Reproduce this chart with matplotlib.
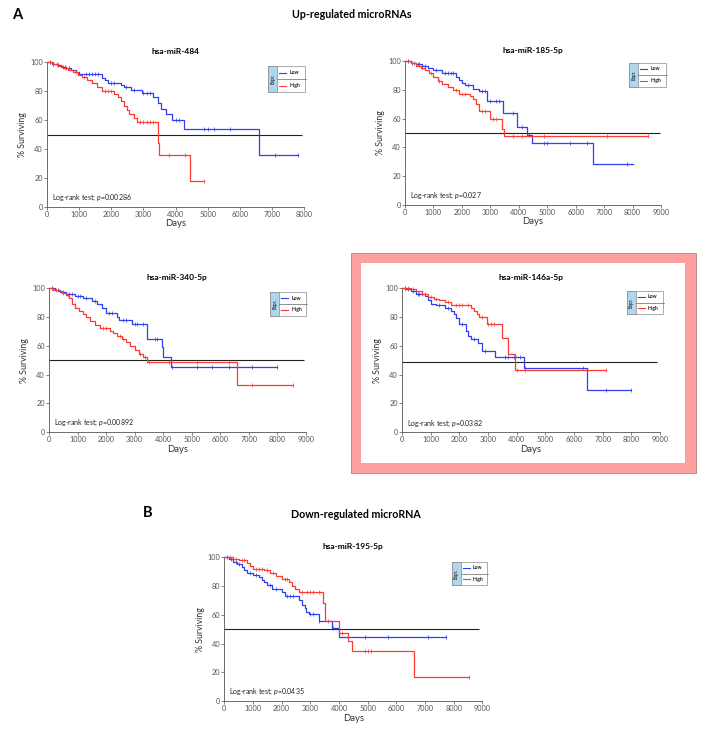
import numpy as np
import matplotlib
matplotlib.use('Agg')
import matplotlib.pyplot as plt
from matplotlib.patches import Rectangle
from matplotlib.lines import Line2D

plt.rcParams['font.family'] = ['Lato', 'DejaVu Sans']
plt.rcParams['mathtext.fontset'] = 'custom'
plt.rcParams['mathtext.it'] = 'Lato:italic'
plt.rcParams['mathtext.rm'] = 'Lato'

W, H = 705, 730

# ---------------- data ----------------
titles = ["hsa-miR-484", "hsa-miR-185-5p", "hsa-miR-340-5p", "hsa-miR-146a-5p", "hsa-miR-195-5p"]
pvalues = ["0.00286", "0.027", "0.00892", "0.0382", "0.0435"]
x_max = [8000, 9000, 9000, 9000, 9000]
median_line = [50, 50, 50, 48.5, 50]
median_line_end = [7930, 8970, 8940, 8880, 8890]
y_ticks = [0, 20, 40, 60, 80, 100]
group_labels = ["Low", "High"]

# hsa-miR-484
mir484_low_t = [0, 150, 300, 450, 600, 750, 900, 1000, 1700, 1800, 1900, 2300, 2400, 2600, 2950, 3300, 3450, 3550, 3700, 3900, 4250, 6600]
mir484_low_s = [100, 99, 98, 97, 96, 95, 93.5, 92, 89, 87.5, 86, 84, 83, 81, 78.5, 76, 72, 68, 64, 60, 54, 36]
mir484_low_end = 7800
mir484_low_cens = [100, 200, 350, 500, 550, 700, 1200, 1300, 1400, 1500, 1600, 2000, 2100, 2450, 2700, 3000, 3100, 3200, 4000, 4100, 4900, 5000, 5200, 5700, 7100, 7800]
mir484_high_t = [0, 200, 350, 500, 650, 800, 950, 1100, 1250, 1400, 1550, 1700, 2100, 2200, 2300, 2400, 2480, 2550, 2700, 2800, 3450, 3490, 4450]
mir484_high_s = [100, 99, 97.5, 96, 94.5, 93, 91.5, 90, 88, 86, 83, 80, 78, 76, 73, 70, 67, 64, 61.5, 58.5, 44, 36, 18]
mir484_high_end = 4900
mir484_high_cens = [100, 200, 300, 600, 900, 1150, 1800, 1900, 2000, 2900, 3000, 3100, 3200, 3300, 3800, 4300, 4900]

# hsa-miR-185-5p
mir185_low_t = [0, 200, 400, 600, 800, 1000, 1300, 1800, 1900, 2000, 2100, 2400, 2600, 2900, 3450, 3950, 4280, 4480, 6600]
mir185_low_s = [100, 99, 98, 97, 95.5, 94, 92, 89, 87, 85, 83.5, 81, 79, 72, 64, 54, 48.5, 43, 28.5]
mir185_low_end = 8000
mir185_low_cens = [100, 250, 450, 500, 700, 1100, 1400, 1500, 1600, 1700, 2200, 2700, 2800, 3000, 3200, 3300, 3800, 4100, 4350, 4900, 5000, 5800, 6400, 7800]
mir185_high_t = [0, 200, 400, 550, 700, 850, 1000, 1150, 1300, 1500, 1700, 1900, 2300, 2400, 2500, 2600, 3000, 3400, 3470]
mir185_high_s = [100, 98.5, 97, 95.5, 94, 92, 89, 86.5, 84, 82, 80, 77, 76, 74, 70, 65, 59.5, 53, 48]
mir185_high_end = 8550
mir185_high_cens = [100, 300, 600, 900, 1200, 1800, 2000, 2100, 2700, 2800, 3100, 3200, 3800, 4100, 4900, 7100, 8550]

# hsa-miR-340-5p
mir340_low_t = [0, 200, 400, 600, 900, 1200, 1500, 1700, 1850, 2000, 2400, 2450, 2900, 3450, 3950, 4000, 4270]
mir340_low_s = [100, 99, 97.5, 96, 94.5, 93, 91, 89, 86, 83, 80, 78, 75.5, 65, 59, 52.5, 45]
mir340_low_end = 8000
mir340_low_cens = [100, 300, 500, 700, 800, 1000, 1100, 1300, 1600, 2100, 2200, 2600, 2700, 3000, 3100, 3300, 3700, 3800, 4300, 5200, 5700, 6300, 7100, 8000]
mir340_high_t = [0, 150, 300, 450, 600, 700, 800, 900, 1050, 1200, 1300, 1450, 1600, 1800, 2150, 2250, 2400, 2550, 2700, 2850, 3000, 3150, 3300, 3450, 6600]
mir340_high_s = [100, 99, 98, 97, 95, 93, 89, 86, 84, 82, 80, 77, 74.5, 72.5, 70.5, 69, 67, 65, 62.5, 60, 57, 54.5, 52, 49, 32.5]
mir340_high_end = 8550
mir340_high_cens = [100, 250, 500, 650, 1900, 2000, 2500, 2600, 3200, 3350, 3500, 4200, 5200, 6300, 7100, 8550]

# hsa-miR-146a-5p
mir146_low_t = [0, 150, 300, 500, 800, 900, 1000, 1200, 1500, 1700, 1800, 1900, 2000, 2220, 2300, 2400, 2650, 2800, 3250, 4270, 6450]
mir146_low_s = [100, 99, 98, 96, 94.5, 92, 89, 88, 86, 84, 82, 79, 75, 70, 67, 65, 62, 56, 52, 44.5, 29.5]
mir146_low_end = 8000
mir146_low_cens = [100, 200, 400, 550, 600, 700, 1300, 1600, 2100, 2500, 2900, 3600, 3700, 3900, 4100, 4300, 6300, 7100, 8000]
mir146_high_t = [0, 300, 500, 700, 900, 1100, 1300, 1500, 1700, 2400, 2500, 2600, 2700, 2950, 3500, 3700, 3950]
mir146_high_s = [100, 99, 98, 96, 94, 92.5, 91.5, 90, 88, 86, 84, 82, 80, 75, 65.5, 54.5, 43.5]
mir146_high_end = 7100
mir146_high_cens = [100, 200, 400, 800, 1000, 1200, 1600, 1900, 2000, 2100, 2300, 2800, 3000, 3100, 3200, 4000, 4300, 7100]

# hsa-miR-195-5p
mir195_low_t = [0, 150, 300, 450, 600, 700, 800, 1000, 1200, 1300, 1400, 1500, 1650, 2000, 2100, 2600, 2700, 2800, 2850, 2950, 3300, 3750, 4000]
mir195_low_s = [100, 98.5, 97, 95.5, 93, 91, 89, 88, 86, 84, 82.5, 81, 78, 76, 73, 70, 67, 65, 62, 60.5, 56, 51, 44.5]
mir195_low_end = 7750
mir195_low_cens = [100, 250, 400, 500, 900, 1100, 1600, 1800, 2200, 2300, 2400, 3000, 3100, 3300, 3800, 4300, 4900, 5700, 7100, 7750]
mir195_high_t = [0, 300, 500, 800, 900, 1000, 1400, 1600, 1800, 2000, 2250, 2350, 2450, 2600, 3450, 3500, 4000, 4300, 4450, 6600]
mir195_high_s = [100, 99, 98, 96, 94, 92, 91, 89, 87, 85, 83, 80, 78, 76, 68, 56, 47, 41.5, 34.5, 17]
mir195_high_end = 8550
mir195_high_cens = [100, 200, 400, 600, 700, 1100, 1200, 1300, 1500, 1700, 2100, 2200, 2700, 2900, 3000, 3100, 3300, 3600, 4100, 4900, 5000, 5100, 8550]

low_groups = [
    (mir484_low_t, mir484_low_s, mir484_low_end, mir484_low_cens),
    (mir185_low_t, mir185_low_s, mir185_low_end, mir185_low_cens),
    (mir340_low_t, mir340_low_s, mir340_low_end, mir340_low_cens),
    (mir146_low_t, mir146_low_s, mir146_low_end, mir146_low_cens),
    (mir195_low_t, mir195_low_s, mir195_low_end, mir195_low_cens),
]
high_groups = [
    (mir484_high_t, mir484_high_s, mir484_high_end, mir484_high_cens),
    (mir185_high_t, mir185_high_s, mir185_high_end, mir185_high_cens),
    (mir340_high_t, mir340_high_s, mir340_high_end, mir340_high_cens),
    (mir146_high_t, mir146_high_s, mir146_high_end, mir146_high_cens),
    (mir195_high_t, mir195_high_s, mir195_high_end, mir195_high_cens),
]

# ---------------- layout (pixel coords, top-left origin) ----------------
axes_px = [  # x0, x1, ytop(100), ybottom(0)
    (47, 304, 62.3, 206.7),
    (405, 661, 61.3, 204.7),
    (49, 305.7, 288.3, 432),
    (402, 660, 288, 432.3),
    (224.3, 482.3, 557.3, 701),
]
legend_px = [
    (268, 66, 305, 92),
    (629, 62.7, 666, 87),
    (270, 292, 306, 316),
    (626.7, 291, 662.7, 314),
    (451.7, 561.7, 487.3, 585.3),
]

BLUE = '#2f3ff2'
RED = '#ff3b30'
GRAY = '#555555'

fig = plt.figure(figsize=(W / 100, H / 100), dpi=100)


def fx(x):
    return x / W


def fy(y):
    return 1 - y / H


# pink highlight frame (behind the axes)
fig.patches.append(Rectangle((fx(350.7), fy(472.7)), fx(696 - 350.7), (472.7 - 252.7) / H,
                             transform=fig.transFigure, facecolor='#ffa0a0', edgecolor='#b08080',
                             lw=0.6, zorder=-2))
fig.patches.append(Rectangle((fx(361.3), fy(463.3)), fx(685.3 - 361.3), (463.3 - 262.7) / H,
                             transform=fig.transFigure, facecolor='white', edgecolor='none', zorder=-1))

fig.text(fx(17), fy(15), "A", fontsize=10.5, fontweight='bold', ha='center', va='center')
fig.text(fx(352), fy(15), "Up-regulated microRNAs", fontsize=7.7, fontweight='bold', ha='center', va='center')
fig.text(fx(147.5), fy(513), "B", fontsize=10.5, fontweight='bold', ha='center', va='center')
fig.text(fx(355.5), fy(515), "Down-regulated microRNA", fontsize=7.7, fontweight='bold', ha='center', va='center')


def km(ax, t, s, end, cens, color):
    t = np.asarray(t, float)
    s = np.asarray(s, float)
    tt = np.append(t, end)
    ss = np.append(s, s[-1])
    ax.step(tt, ss, where='post', color=color, lw=0.9, clip_on=False, zorder=3)
    c = np.asarray(cens, float)
    idx = np.searchsorted(t, c, side='right') - 1
    ax.plot(c, s[idx], ls='none', marker='|', ms=2.6, mew=0.5, color=color, clip_on=False, zorder=3)


def legend(x0, y0, x1, y1):
    w = fx(x1 - x0)
    h = (y1 - y0) / H
    fig.patches.append(Rectangle((fx(x0), fy(y1)), w, h, transform=fig.transFigure,
                                 facecolor='white', edgecolor='#8a8a8a', lw=0.5, zorder=5))
    cw = 9.3
    fig.patches.append(Rectangle((fx(x0), fy(y1)), fx(cw), h, transform=fig.transFigure,
                                 facecolor='#aed6ef', edgecolor='#8a8a8a', lw=0.5, zorder=6))
    fig.text(fx(x0 + cw / 2), fy((y0 + y1) / 2), "Expr.", rotation=90, fontsize=3.3,
             fontweight='bold', ha='center', va='center', zorder=7, color='#333333')
    ym = (y0 + y1) / 2
    fig.lines.append(Line2D([fx(x0 + cw), fx(x1 + 1)], [fy(ym), fy(ym)], transform=fig.transFigure,
                            color='#666666', lw=0.5, zorder=7))
    for lab, col, yy in [(group_labels[0], BLUE, (y0 + ym) / 2), (group_labels[1], RED, (ym + y1) / 2)]:
        fig.lines.append(Line2D([fx(x0 + cw + 2), fx(x0 + cw + 9)], [fy(yy), fy(yy)],
                                transform=fig.transFigure, color=col, lw=0.8, zorder=8))
        fig.text(fx(x0 + cw + 12), fy(yy), lab, fontsize=3.7, fontweight='bold', ha='left', va='center',
                 zorder=8, color='#222222')


for i in range(5):
    x0, x1, yt, yb = axes_px[i]
    ax = fig.add_axes([fx(x0), fy(yb), fx(x1 - x0), (yb - yt) / H])
    ax.set_facecolor('none')
    ax.set_xlim(0, x_max[i])
    ax.set_ylim(0, 100)
    for sp in ['top', 'right']:
        ax.spines[sp].set_visible(False)
    for sp in ['left', 'bottom']:
        ax.spines[sp].set_color('#555555')
        ax.spines[sp].set_linewidth(0.6)
    ax.set_yticks(y_ticks)
    ax.set_xticks(np.arange(0, x_max[i] + 1, 1000))
    ax.tick_params(axis='both', labelsize=5.3, colors=GRAY, length=2, width=0.5, pad=1)
    ax.hlines(median_line[i], 0, median_line_end[i], color='#222222', lw=0.8, zorder=2, clip_on=False)
    km(ax, *low_groups[i], BLUE)
    km(ax, *high_groups[i], RED)
    ax.set_title(titles[i], fontsize=6, fontweight='bold', pad=6)
    ax.set_xlabel("Days", fontsize=6.8, color='#333333', labelpad=1)
    ax.set_ylabel("% Surviving", fontsize=6.3, color='#333333', labelpad=2)
    ax.text(0.018, 0.025, "Log-rank test; $\\mathit{p}$=" + pvalues[i], transform=ax.transAxes,
            fontsize=5, color='#222222', ha='left', va='bottom')
    legend(*legend_px[i])

fig.savefig('out.png', dpi=100)
